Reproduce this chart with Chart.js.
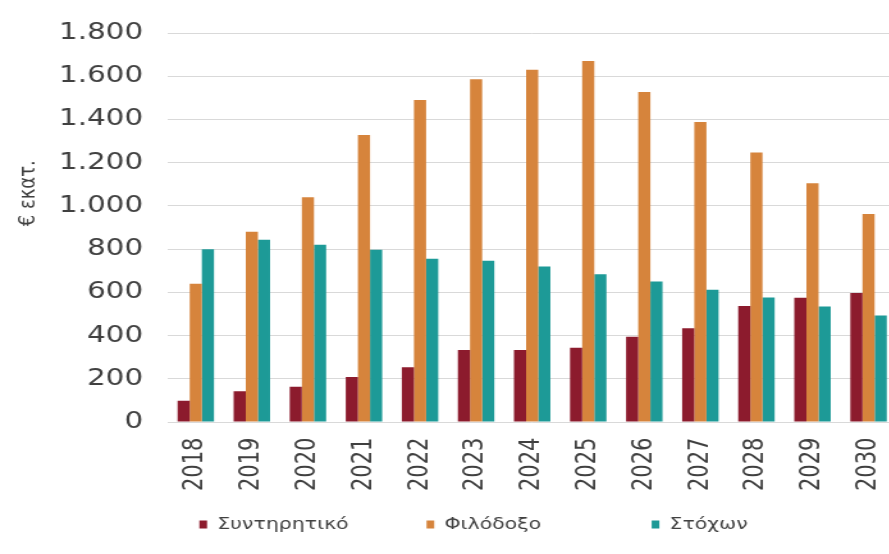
<!DOCTYPE html>
<html>
<head>
<meta charset="utf-8">
<script src="https://cdn.jsdelivr.net/npm/chart.js@4.4.1/dist/chart.umd.min.js"></script>
<style>
  html, body { margin: 0; padding: 0; background: #fff; overflow: hidden; }
  #wrap { width: 889px; height: 554px; overflow: hidden; }
  /* the source picture is stretched sideways, so the canvas is too */
  #chart { display: block; transform: scaleX(1.28); transform-origin: 0 0; }
</style>
</head>
<body>
<div id="wrap"><canvas id="chart" width="720" height="554"></canvas></div>
<script>
const years = ["2018", "2019", "2020", "2021", "2022", "2023", "2024", "2025", "2026", "2027", "2028", "2029", "2030"];
const conservative = [98, 143, 163, 209, 253, 333, 333, 344, 395, 434, 537, 575, 597];
const ambitious = [640, 880, 1040, 1328, 1490, 1586, 1630, 1670, 1527, 1388, 1247, 1105, 963];
const target = [800, 843, 820, 797, 756, 746, 720, 684, 650, 612, 576, 535, 493];
const yTickLabels = ["0", "200", "400", "600", "800", "1.000", "1.200", "1.400", "1.600", "1.800"];
const seriesNames = ["Συντηρητικό", "Φιλόδοξο", "Στόχων"];
const yTitle = "€ εκατ.";

Chart.defaults.font.family = "'DejaVu Sans', sans-serif";
Chart.defaults.color = "#404040";

const ctx = document.getElementById("chart").getContext("2d");

new Chart(ctx, {
  type: "bar",
  data: {
    labels: years,
    datasets: [
      { label: seriesNames[0], data: conservative, backgroundColor: "#8c1b2d" },
      { label: seriesNames[1], data: ambitious, backgroundColor: "#d6843c" },
      { label: seriesNames[2], data: target, backgroundColor: "#1d9a97" },
    ],
  },
  options: {
    responsive: false,
    animation: false,
    categoryPercentage: 0.65,
    barPercentage: 1.0,
    layout: { padding: { left: 10, right: 19.4, top: 31, bottom: 11.5 } },
    plugins: {
      tooltip: { enabled: false },
      legend: {
        position: "bottom",
        fullSize: false,
        labels: {
          font: { size: 16 },
          boxWidth: 6,
          boxHeight: 8,
          padding: 10,
          // Excel gives every legend entry the same slot width
          generateLabels(chart) {
            const items = Chart.defaults.plugins.legend.labels.generateLabels(chart);
            const c = chart.ctx;
            c.save();
            c.font = "16px 'DejaVu Sans', sans-serif";
            items.forEach((item) => {
              while (c.measureText(item.text).width < 149) item.text += "\u00a0";
            });
            c.restore();
            return items;
          },
        },
      },
    },
    scales: {
      x: {
        grid: { display: false, drawTicks: false },
        border: { display: false },
        ticks: {
          font: { size: 21 },
          minRotation: 90,
          maxRotation: 90,
          autoSkip: false,
          padding: 15.5,
        },
      },
      y: {
        min: 0,
        max: 1800,
        border: { display: false },
        grid: { color: "#d9d9d9", lineWidth: 1, drawTicks: false },
        title: {
          display: true,
          // leading blanks lift the title, as in the source
          text: "\u00a0".repeat(12) + yTitle,
          font: { size: 18 },
          padding: { top: 1.2, bottom: -6 },
        },
        ticks: {
          stepSize: 200,
          font: { size: 23 },
          padding: 19.2,
          callback: (value, index) => yTickLabels[index],
        },
      },
    },
  },
});
</script>
</body>
</html>
